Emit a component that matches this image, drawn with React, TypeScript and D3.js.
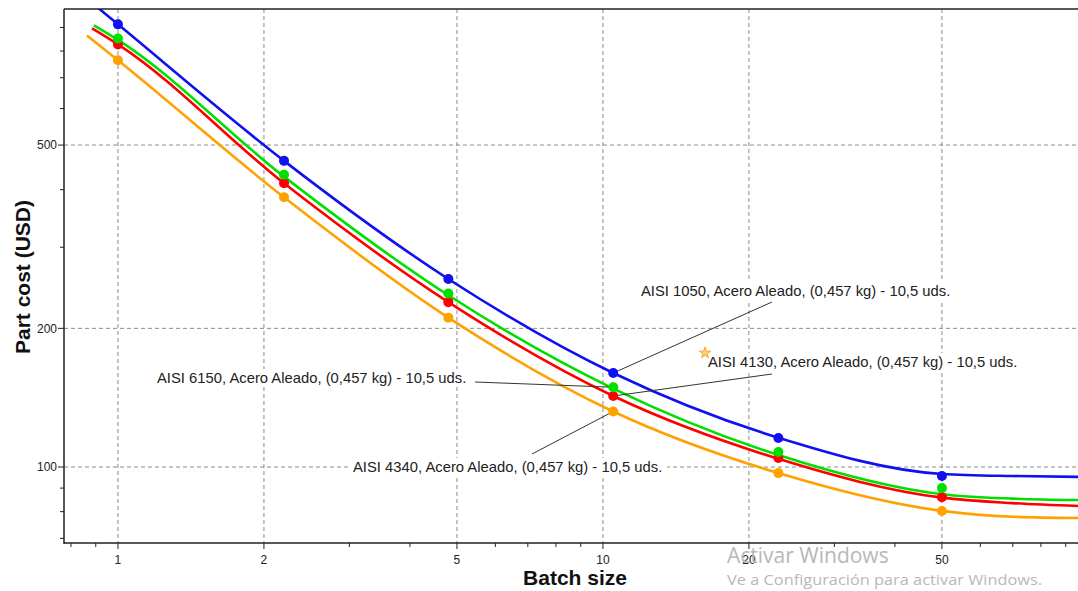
import * as d3 from 'd3';
import React from 'react';

// batch sizes of the simulated points
const batchSizes = [1, 2.2, 4.8, 10.5, 23, 50];

// part cost (USD) at each batch size
const aisi1050 = [914, 462, 256, 160, 115.6, 95.6];
const aisi6150 = [852, 431, 238, 149, 107.8, 90];
const aisi4130 = [827, 413, 228, 142.6, 104.6, 86];
const aisi4340 = [764, 385, 211, 132, 97, 80.3];

// trend curves
const fit1050X = [0.9, 1, 2.2, 4.8, 10.5, 23, 50, 70, 95.4];
const fit1050Y = [1002, 914, 462, 256, 160, 115.8, 96.6, 95.6, 95.2];
const fit6150X = [0.892, 1, 2.2, 4.8, 10.5, 23, 50, 70, 95.4];
const fit6150Y = [910, 846, 427, 236, 148, 106.2, 87.3, 85.4, 84.8];
const fit4130X = [0.884, 1, 2.2, 4.8, 10.5, 23, 50, 70, 95.4];
const fit4130Y = [896, 827, 413, 228, 142.6, 104.2, 85.8, 83.5, 82.3];
const fit4340X = [0.863, 1, 2.2, 4.8, 10.5, 23, 50, 70, 95.4];
const fit4340Y = [865, 764, 385, 211, 132, 97, 80.3, 78, 77.5];

const xMajor = [1, 2, 5, 10, 20, 50];
const xMinor = [0.8, 0.9, 3, 4, 6, 7, 8, 9, 30, 40, 60, 70, 80, 90];
const yMajor = [100, 200, 500];
const yMinor = [70, 80, 90, 300, 400, 600, 700, 800, 900];

const labelText = 'Acero Aleado, (0,457 kg) - 10,5 uds.';

const series = [
  { name: 'AISI 4340', color: '#ffa200', pts: aisi4340, fx: fit4340X, fy: fit4340Y, lx: 353, ly: 467, ax: 532, ay: 454 },
  { name: 'AISI 4130', color: '#ff0000', pts: aisi4130, fx: fit4130X, fy: fit4130Y, lx: 708, ly: 362, ax: 772, ay: 374 },
  { name: 'AISI 6150', color: '#00e000', pts: aisi6150, fx: fit6150X, fy: fit6150Y, lx: 157, ly: 378, ax: 475, ay: 382 },
  { name: 'AISI 1050', color: '#1010f0', pts: aisi1050, fx: fit1050X, fy: fit1050Y, lx: 641, ly: 291, ax: 772, ay: 302 },
];

const W = 1078;
const H = 591;
const left = 64, right = 1078, top = 9, bottom = 543;
const font = '"Liberation Sans", Arial, sans-serif';

export default function App() {
  const x = d3.scaleLog().domain([0.774, 95.4]).range([left, right]);
  const y = d3.scaleLog().domain([68.4, 987]).range([bottom, top]);

  const line = d3.line<[number, number]>()
    .x(d => x(d[0]))
    .y(d => y(d[1]))
    .curve(d3.curveMonotoneX);

  const star = d3.symbol().type(d3.symbolStar).size(40)();
  const idx = batchSizes.indexOf(10.5);

  return (
    <div style={{ position: 'fixed', left: 0, top: 0 }}>
      <svg width={W} height={H} style={{ display: 'block', background: '#fff' }} fontFamily={font}>
        <defs>
          <clipPath id="plot">
            <rect x={left} y={top} width={right - left + 10} height={bottom - top} />
          </clipPath>
        </defs>

        {/* grid */}
        {xMajor.map(v => (
          <line key={'gx' + v} x1={x(v)} x2={x(v)} y1={top} y2={bottom} stroke="#8c8c8c" strokeDasharray="4,3" />
        ))}
        {yMajor.map(v => (
          <line key={'gy' + v} x1={left} x2={right + 10} y1={y(v)} y2={y(v)} stroke="#8c8c8c" strokeDasharray="4,3" />
        ))}

        {/* curves */}
        <g clipPath="url(#plot)">
          {series.map(s => (
            <path key={s.name} d={line(s.fx.map((v, i) => [v, s.fy[i]]) as [number, number][]) || ''}
              fill="none" stroke={s.color} strokeWidth={2.6} />
          ))}
        </g>

        {/* leader lines */}
        {series.map(s => {
          const px = x(batchSizes[idx]);
          const py = y(s.pts[idx]);
          const dx = s.ax - px, dy = s.ay - py;
          const len = Math.sqrt(dx * dx + dy * dy);
          return (
            <line key={'ld' + s.name} x1={s.ax} y1={s.ay} x2={px + dx / len * 4} y2={py + dy / len * 4}
              stroke="#333" strokeWidth={1} />
          );
        })}

        {/* points */}
        {series.map(s => (
          <g key={'p' + s.name}>
            {batchSizes.map((b, i) => (
              <circle key={i} cx={x(b)} cy={y(s.pts[i])} r={5} fill={s.color} />
            ))}
          </g>
        ))}

        {/* labels */}
        {series.map(s => {
          const txt = s.name + ', ' + labelText;
          return (
            <g key={'lb' + s.name}>
              <rect x={s.lx - 2} y={s.ly - 9} width={316} height={18} fill="#fff" />
              <text x={s.lx} y={s.ly} dy="0.35em" fontSize={14.8} fill="#222">{txt}</text>
            </g>
          );
        })}
        <path d={star} transform="translate(705,353)" fill="#ffcf70" stroke="#f09a10" strokeWidth={0.8} />

        {/* axes */}
        <line x1={left} x2={left} y1={top} y2={bottom + 1} stroke="#222" strokeWidth={1.5} />
        <line x1={left} x2={right + 10} y1={top} y2={top} stroke="#222" strokeWidth={1.5} />
        <line x1={left} x2={right + 10} y1={bottom} y2={bottom} stroke="#222" strokeWidth={1.5} />

        {yMajor.map(v => (
          <g key={'yt' + v}>
            <line x1={left - 6} x2={left} y1={y(v)} y2={y(v)} stroke="#222" />
            <text x={left - 7} y={y(v)} dy="0.35em" textAnchor="end" fontSize={12} fill="#222">{v}</text>
          </g>
        ))}
        {yMinor.map(v => (
          <line key={'ym' + v} x1={left - 4} x2={left} y1={y(v)} y2={y(v)} stroke="#222" />
        ))}
        {xMajor.map(v => (
          <g key={'xt' + v}>
            <line x1={x(v)} x2={x(v)} y1={bottom} y2={bottom + 6} stroke="#222" />
            <text x={x(v)} y={bottom + 17} dy="0.35em" textAnchor="middle" fontSize={12} fill="#222">{v}</text>
          </g>
        ))}
        {xMinor.map(v => (
          <line key={'xm' + v} x1={x(v)} x2={x(v)} y1={bottom} y2={bottom + 4} stroke="#222" />
        ))}

        <text x={575} y={585} textAnchor="middle" fontSize={21} fontWeight="bold" fill="#111">Batch size</text>
        <text transform="translate(30,277) rotate(-90)" textAnchor="middle" fontSize={21} fontWeight="bold" fill="#111">Part cost (USD)</text>

        {/* watermark */}
        <text x={727} y={563} fontSize={21} fill="#b8b8b8" fontFamily='"Open Sans", "Noto Sans", sans-serif'>Activar Windows</text>
        <text x={727} y={585} fontSize={15} textLength={315} lengthAdjust="spacingAndGlyphs" fill="#b8b8b8" fontFamily='"Open Sans", "Noto Sans", sans-serif'>Ve a Configuración para activar Windows.</text>
      </svg>
    </div>
  );
}
